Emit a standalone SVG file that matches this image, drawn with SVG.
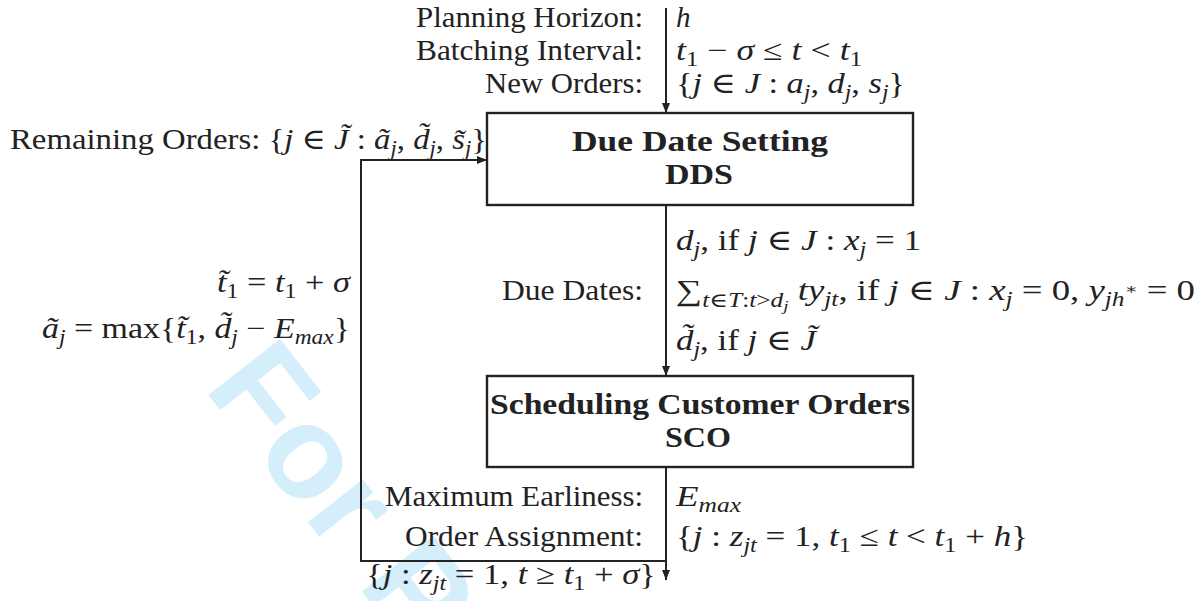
<svg xmlns="http://www.w3.org/2000/svg" width="1202" height="601" viewBox="0 0 1202 601">
<style>
.t{font-family:"Liberation Serif","DejaVu Serif",serif;font-size:29px;fill:#222}
.i{font-style:italic}
.s{font-size:20px}
.ss{font-size:15px}
.b{font-weight:bold}
.box{fill:#fff;stroke:#222;stroke-width:2.4}
.ln{fill:none;stroke:#222;stroke-width:2}
.wm{font-family:"Liberation Sans",Arial,sans-serif;font-weight:bold;font-size:132px;fill:#d4effb}
</style>
<defs>
<marker id="ah" markerUnits="userSpaceOnUse" markerWidth="10" markerHeight="8" refX="10" refY="4" orient="auto">
<path d="M0,0 L10,4 L0,8 z" fill="#222"/>
</marker>
</defs>
<rect width="1202" height="601" fill="#fff"/>
<text class="wm" x="203" y="388" transform="rotate(52 203 388)">For P</text>

<g id="connectors">
<line class="ln" x1="666" y1="8" x2="666" y2="113" marker-end="url(#ah)"/>
<line class="ln" x1="666" y1="205" x2="666" y2="376" marker-end="url(#ah)"/>
<line class="ln" x1="666" y1="467" x2="666" y2="580" marker-end="url(#ah)"/>
<polyline class="ln" points="666,561 361,561 361,160 487,160" marker-end="url(#ah)"/>
</g>

<g id="dds">
<rect class="box" x="487" y="113" width="426" height="92"/>
<text class="t b" x="700" y="151" text-anchor="middle" textLength="256" lengthAdjust="spacingAndGlyphs">Due Date Setting</text>
<text class="t b" x="699" y="184" text-anchor="middle" textLength="68" lengthAdjust="spacingAndGlyphs">DDS</text>
</g>

<g id="sco">
<rect class="box" x="487" y="376" width="426" height="91"/>
<text class="t b" x="700" y="414" text-anchor="middle" textLength="420" lengthAdjust="spacingAndGlyphs">Scheduling Customer Orders</text>
<text class="t b" x="698" y="447" text-anchor="middle" textLength="66" lengthAdjust="spacingAndGlyphs">SCO</text>
</g>

<g id="input-labels">
<text class="t" x="643" y="27" text-anchor="end" textLength="227" lengthAdjust="spacingAndGlyphs">Planning Horizon:</text>
<text class="t" x="643" y="60" text-anchor="end" textLength="227" lengthAdjust="spacingAndGlyphs">Batching Interval:</text>
<text class="t" x="643" y="93" text-anchor="end" textLength="158" lengthAdjust="spacingAndGlyphs">New Orders:</text>
<text class="t" x="676" y="27"><tspan class="i">h</tspan></text>
<text class="t" x="676" y="60" textLength="186" lengthAdjust="spacingAndGlyphs"><tspan class="i">t</tspan><tspan class="s" dy="6">1</tspan><tspan dy="-6"> − </tspan><tspan class="i">σ</tspan> ≤ <tspan class="i">t</tspan> &lt; <tspan class="i">t</tspan><tspan class="s" dy="6">1</tspan></text>
<text class="t" x="676" y="93" textLength="229" lengthAdjust="spacingAndGlyphs">{<tspan class="i">j</tspan> ∈ <tspan class="i">J</tspan> : <tspan class="i">a</tspan><tspan class="i s" dy="6">j</tspan><tspan dy="-6">, </tspan><tspan class="i">d</tspan><tspan class="i s" dy="6">j</tspan><tspan dy="-6">, </tspan><tspan class="i">s</tspan><tspan class="i s" dy="6">j</tspan><tspan dy="-6">}</tspan></text>
<text class="t" x="10" y="149" textLength="477" lengthAdjust="spacingAndGlyphs">Remaining Orders: {<tspan class="i">j</tspan> ∈ <tspan class="i">J̃</tspan> : <tspan class="i">ã</tspan><tspan class="i s" dy="6">j</tspan><tspan dy="-6">, </tspan><tspan class="i">d̃</tspan><tspan class="i s" dy="6">j</tspan><tspan dy="-6">, </tspan><tspan class="i">s̃</tspan><tspan class="i s" dy="6">j</tspan><tspan dy="-6">}</tspan></text>
</g>

<g id="due-dates-labels">
<text class="t" x="676" y="250" textLength="245" lengthAdjust="spacingAndGlyphs"><tspan class="i">d</tspan><tspan class="i s" dy="6">j</tspan><tspan dy="-6">,  if </tspan><tspan class="i">j</tspan> ∈ <tspan class="i">J</tspan> : <tspan class="i">x</tspan><tspan class="i s" dy="6">j</tspan><tspan dy="-6"> = 1</tspan></text>
<text class="t" x="643" y="300" text-anchor="end" textLength="141" lengthAdjust="spacingAndGlyphs">Due Dates:</text>
<text class="t" x="676" y="300" textLength="519" lengthAdjust="spacingAndGlyphs">∑<tspan class="i s" dy="7">t</tspan><tspan class="s">∈</tspan><tspan class="i s">T</tspan><tspan class="s">:</tspan><tspan class="i s">t</tspan><tspan class="s">&gt;</tspan><tspan class="i s">d</tspan><tspan class="i ss" dy="4">j</tspan><tspan dy="-11"> </tspan><tspan class="i">ty</tspan><tspan class="i s" dy="6">jt</tspan><tspan dy="-6">, if </tspan><tspan class="i">j</tspan> ∈ <tspan class="i">J</tspan> : <tspan class="i">x</tspan><tspan class="i s" dy="6">j</tspan><tspan dy="-6"> = 0,  </tspan><tspan class="i">y</tspan><tspan class="i s" dy="6">jh</tspan><tspan class="ss" dy="-12">∗</tspan><tspan dy="6"> = 0</tspan></text>
<text class="t" x="676" y="350" textLength="140" lengthAdjust="spacingAndGlyphs"><tspan class="i">d̃</tspan><tspan class="i s" dy="6">j</tspan><tspan dy="-6">,  if </tspan><tspan class="i">j</tspan> ∈ <tspan class="i">J̃</tspan></text>
</g>

<g id="loop-labels">
<text class="t" x="350" y="292" text-anchor="end" textLength="133" lengthAdjust="spacingAndGlyphs"><tspan class="i">t̃</tspan><tspan class="s" dy="6">1</tspan><tspan dy="-6"> = </tspan><tspan class="i">t</tspan><tspan class="s" dy="6">1</tspan><tspan dy="-6"> + </tspan><tspan class="i">σ</tspan></text>
<text class="t" x="350" y="338" text-anchor="end" textLength="308" lengthAdjust="spacingAndGlyphs"><tspan class="i">ã</tspan><tspan class="i s" dy="6">j</tspan><tspan dy="-6"> = max{</tspan><tspan class="i">t̃</tspan><tspan class="s" dy="6">1</tspan><tspan dy="-6">, </tspan><tspan class="i">d̃</tspan><tspan class="i s" dy="6">j</tspan><tspan dy="-6"> − </tspan><tspan class="i">E</tspan><tspan class="i s" dy="6">max</tspan><tspan dy="-6">}</tspan></text>
</g>

<g id="output-labels">
<text class="t" x="643" y="506" text-anchor="end" textLength="258" lengthAdjust="spacingAndGlyphs">Maximum Earliness:</text>
<text class="t" x="643" y="546" text-anchor="end" textLength="238" lengthAdjust="spacingAndGlyphs">Order Assignment:</text>
<text class="t" x="676" y="506" textLength="65" lengthAdjust="spacingAndGlyphs"><tspan class="i">E</tspan><tspan class="i s" dy="6">max</tspan></text>
<text class="t" x="676" y="546" textLength="352" lengthAdjust="spacingAndGlyphs">{<tspan class="i">j</tspan> : <tspan class="i">z</tspan><tspan class="i s" dy="6">jt</tspan><tspan dy="-6"> = 1, </tspan><tspan class="i">t</tspan><tspan class="s" dy="6">1</tspan><tspan dy="-6"> ≤ </tspan><tspan class="i">t</tspan> &lt; <tspan class="i">t</tspan><tspan class="s" dy="6">1</tspan><tspan dy="-6"> + </tspan><tspan class="i">h</tspan>}</text>
<text class="t" x="366" y="584" textLength="290" lengthAdjust="spacingAndGlyphs">{<tspan class="i">j</tspan> : <tspan class="i">z</tspan><tspan class="i s" dy="6">jt</tspan><tspan dy="-6"> = 1, </tspan><tspan class="i">t</tspan> ≥ <tspan class="i">t</tspan><tspan class="s" dy="6">1</tspan><tspan dy="-6"> + </tspan><tspan class="i">σ</tspan>}</text>
</g>
</svg>
